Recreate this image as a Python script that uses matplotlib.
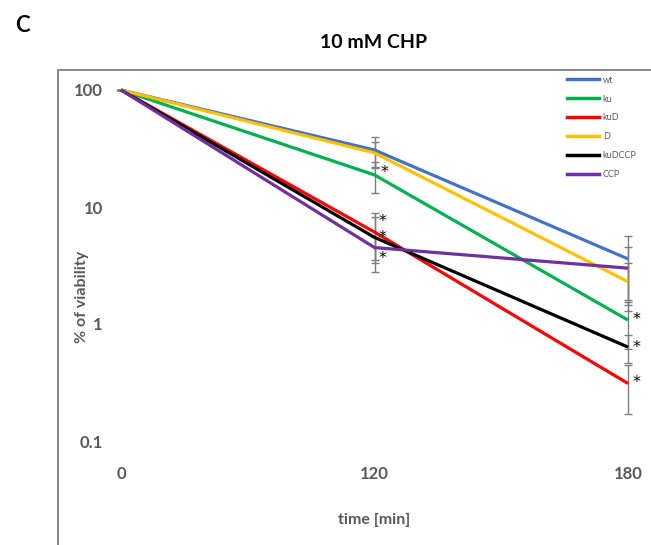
import matplotlib
matplotlib.use('Agg')
import matplotlib.pyplot as plt
from matplotlib.lines import Line2D
import numpy as np

plt.rcParams['font.family'] = ['Lato', 'DejaVu Sans']

TIMES = ['0', '120', '180']
SERIES = ['wt', 'ku', 'kuD', 'D', 'kuDCCP', 'CCP']
COLORS = {'wt': '#4472C4', 'ku': '#00B050', 'kuD': '#FF0000',
          'D': '#FFC000', 'kuDCCP': '#000000', 'CCP': '#7030A0'}

VIABILITY = {
    'wt':     [100, 30.7, 3.6],
    'ku':     [100, 18.8, 1.08],
    'kuD':    [100, 6.1, 0.31],
    'D':      [100, 29.0, 2.3],
    'kuDCCP': [100, 5.5, 0.635],
    'CCP':    [100, 4.5, 3.0],
}
ERRORS = {
    'wt':     [0, 9.0, 2.0],
    'ku':     [0, 5.6, 0.47],
    'kuD':    [0, 2.8, 0.14],
    'D':      [0, 7.0, 1.0],
    'kuDCCP': [0, 2.7, 0.17],
    'CCP':    [0, 1.0, 1.55],
}
# significance marks: (series, time index, offset in points)
STARS = [('ku', 1, (7, 2)), ('kuD', 1, (6, 7.5)), ('kuDCCP', 1, (6, 0)),
         ('CCP', 1, (6, -8)),
         ('ku', 2, (6, 0.5)), ('kuDCCP', 2, (6, -0.5)), ('kuD', 2, (6, 0.5))]

GREY = '#595959'

fig = plt.figure(figsize=(6.51, 5.45), dpi=100)
fig.patch.set_facecolor('white')
ax = fig.add_axes([121 / 651, 1 - 441 / 545, 507 / 651, 351 / 545])

x = np.arange(len(TIMES))
for s in SERIES:
    ax.errorbar(x, VIABILITY[s], yerr=ERRORS[s], color=COLORS[s], lw=2.3,
                ecolor='#7f7f7f', elinewidth=1.0, capsize=2.8, capthick=1.0,
                clip_on=False, solid_capstyle='butt')

for s, i, off in STARS:
    ax.annotate('*', xy=(x[i], VIABILITY[s][i]), xytext=off,
                textcoords='offset points', ha='center', va='center',
                fontsize=11.5, color='black', family='DejaVu Sans')

ax.set_yscale('log')
ax.set_ylim(0.1, 100)
ax.set_xlim(0, 2)
ax.set_xticks(x)
ax.set_xticklabels(TIMES)
ax.set_yticks([0.1, 1, 10, 100])
ax.set_yticklabels(['0.1', '1', '10', '100'])
ax.minorticks_off()
ax.tick_params(axis='both', length=0, labelsize=12, labelcolor=GREY)
ax.tick_params(axis='y', pad=13)
ax.tick_params(axis='x', pad=18)
for lbl in ax.get_xticklabels() + ax.get_yticklabels():
    lbl.set_fontweight('bold')
for sp in ax.spines.values():
    sp.set_visible(False)
ax.patch.set_alpha(0)

ax.set_xlabel('time [min]', fontsize=11.5, fontweight='bold', color=GREY, labelpad=22)
fig.text(82 / 651, 1 - 297 / 545, '% of viability', rotation=90, ha='center',
         va='center', fontsize=11.5, fontweight='bold', color=GREY)

handles = [Line2D([], [], color=COLORS[s], lw=2.5) for s in SERIES]
leg = ax.legend(handles, SERIES, loc='upper right',
                bbox_to_anchor=(640 / 651, 1 - 72 / 545),
                bbox_transform=fig.transFigure, frameon=False, fontsize=6.5,
                handlelength=3.6, handletextpad=0.4, labelspacing=1.1,
                borderaxespad=0)
for t in leg.get_texts():
    t.set_color(GREY)

fig.text(374 / 651, 1 - 42 / 545, '10 mM CHP', ha='center', va='center',
         fontsize=14, fontweight='bold')
fig.text(22 / 651, 1 - 25 / 545, 'C', ha='center', va='center',
         fontsize=16, fontweight='bold')

frame = plt.Rectangle((58 / 651, -0.05), 1.0, 1 - 70 / 545 + 0.05,
                      transform=fig.transFigure, fill=False,
                      edgecolor='#7f7f7f', lw=1.3)
fig.patches.append(frame)

fig.savefig('out.png', dpi=100, facecolor='white')
